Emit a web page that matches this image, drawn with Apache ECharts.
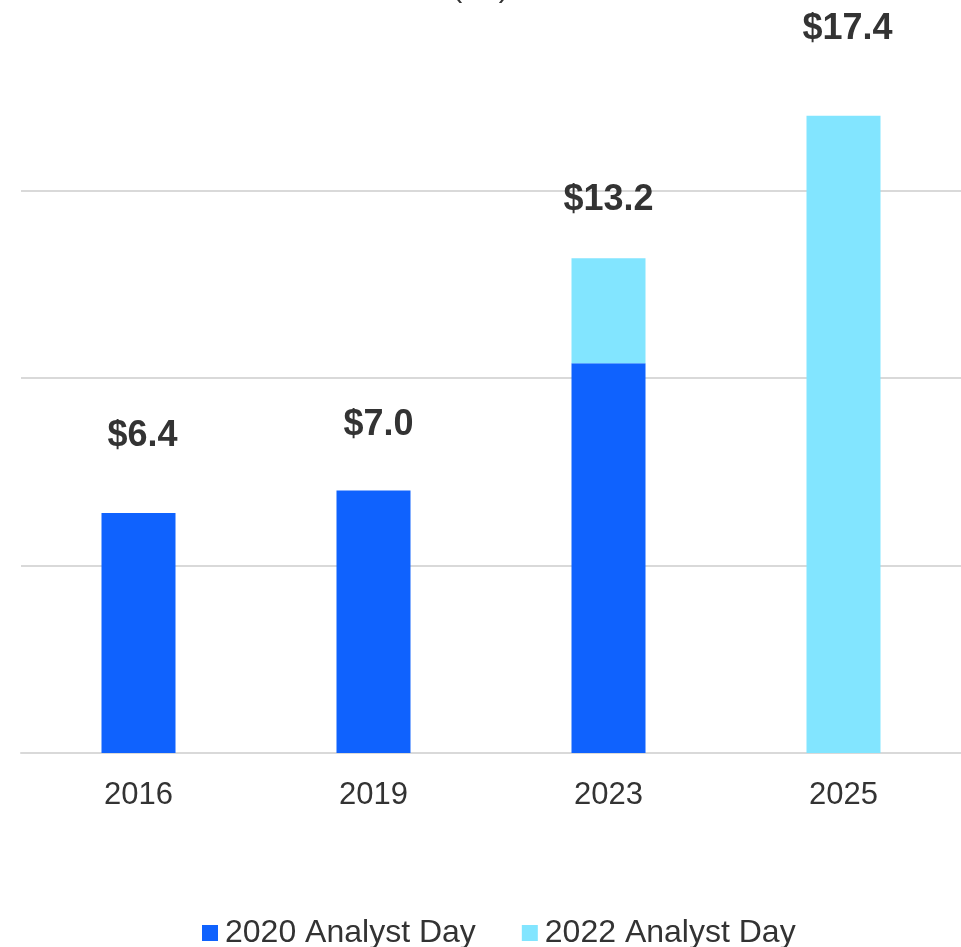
<!DOCTYPE html>
<html>
<head>
<meta charset="utf-8">
<script src="https://cdn.jsdelivr.net/npm/echarts@6/dist/echarts.min.js"></script>
<style>
  html, body { margin: 0; padding: 0; background: #fff; }
  #main { width: 961px; height: 947px; }
</style>
</head>
<body>
<div id="main"></div>
<script>
var years = ['2016', '2019', '2023', '2025'];
var analyst2020 = [6.4, 7.0, 10.4, 0];
var analyst2022 = [0, 0, 2.8, 17.0];
var totalLabels = ['$6.4', '$7.0', '$13.2', '$17.4'];
var labelGap = [59, 48, 40, 69];
var labelShift = [4, 5, 0, 4];

var myChart = echarts.init(document.getElementById('main'));

var topData = [];
for (var i = 0; i < years.length; i++) {
	topData.push({
		value: analyst2022[i],
		label: {
			distance: labelGap[i],
			offset: [labelShift[i], 0]
		}
	});
}

var option = {
	animation: false,
	textStyle: { fontFamily: 'Liberation Sans, Arial, sans-serif' },
	title: {
		text: '($B)',
		left: 'center',
		top: -31,
		textStyle: { fontSize: 30, fontWeight: 'normal', color: '#333' }
	},
	legend: {
		left: 202,
		top: 917,
		padding: 0,
		itemWidth: 16,
		itemHeight: 16,
		itemGap: 46,
		icon: 'rect',
		textStyle: { fontSize: 32, color: '#333', padding: [0, 0, 0, 2] },
		data: ['2020 Analyst Day', '2022 Analyst Day']
	},
	grid: { left: 21, right: 0, top: 97, bottom: 194 },
	xAxis: {
		type: 'category',
		data: years,
		axisTick: { show: false },
		axisLine: { lineStyle: { color: '#d9d9d9', width: 2 } },
		axisLabel: { fontSize: 31, color: '#333', margin: 27 }
	},
	yAxis: {
		type: 'value',
		min: 0,
		max: 17.5,
		interval: 5,
		axisLabel: { show: false },
		axisLine: { show: false },
		axisTick: { show: false },
		splitLine: { showMaxLine: false, lineStyle: { color: '#d9d9d9', width: 2 } }
	},
	series: [
		{
			name: '2020 Analyst Day',
			type: 'bar',
			stack: 'rev',
			barWidth: 74,
			itemStyle: { color: '#0f62fe' },
			data: analyst2020
		},
		{
			name: '2022 Analyst Day',
			type: 'bar',
			stack: 'rev',
			barWidth: 74,
			itemStyle: { color: '#82e5ff' },
			label: {
				show: true,
				position: 'top',
				fontSize: 36,
				fontWeight: 'bold',
				color: '#333',
				formatter: function (p) { return totalLabels[p.dataIndex]; }
			},
			data: topData
		}
	]
};

myChart.setOption(option);
</script>
</body>
</html>
